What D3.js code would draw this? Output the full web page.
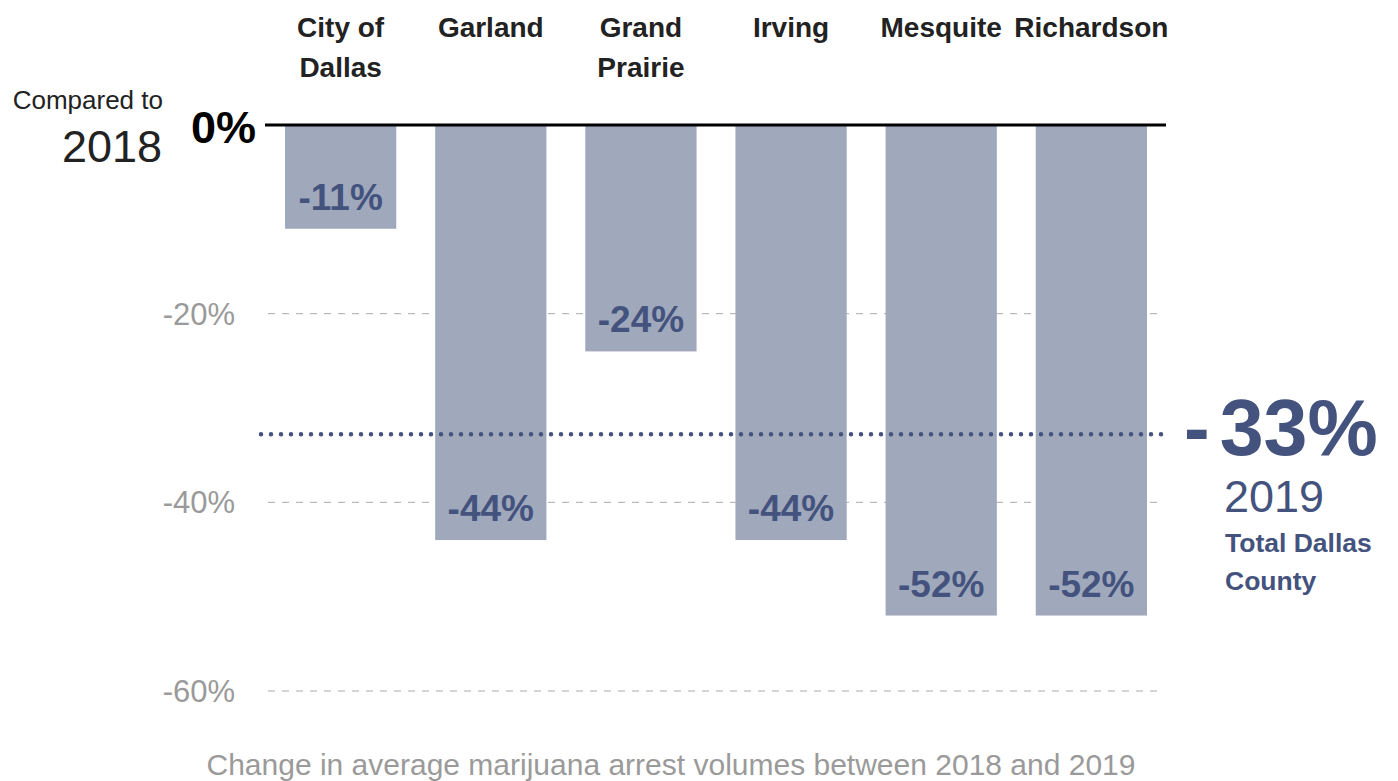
<!DOCTYPE html>
<html><head><meta charset="utf-8">
<script src="https://cdn.jsdelivr.net/npm/d3@7"></script>
<style>body{margin:0;background:#fff}text{font-family:"Liberation Sans",Arial,Helvetica,sans-serif}</style>
</head><body>
<svg id="c" width="1398" height="781"></svg>
<script>
const categories = ["City of|Dallas","Garland","Grand|Prairie","Irving","Mesquite","Richardson"];
const values = [-11,-44,-24,-44,-52,-52];
const valueLabels = ["-11%","-44%","-24%","-44%","-52%","-52%"];
const tickValues = [-20,-40,-60];
const tickLabels = ["-20%","-40%","-60%"];
const countyValue = -33;
const countyLabel = ["-","33%"];

const svg = d3.select("#c");
const y = d3.scaleLinear().domain([0,-60]).range([125,691]);
const x = d3.scaleBand().domain(categories).range([261,1171]).paddingInner(0.259).paddingOuter(0.16);
const barColor = "#a0a8bc", labColor = "#44537e";

// gridlines
svg.selectAll(".grid").data(tickValues).join("line")
  .attr("x1",268).attr("x2",1163).attr("y1",d=>y(d)).attr("y2",d=>y(d))
  .attr("stroke","#aaa").attr("stroke-width",1).attr("stroke-dasharray","7,7");
svg.selectAll(".tick").data(tickValues).join("text")
  .attr("x",235).attr("y",d=>y(d)+11).attr("text-anchor","end")
  .attr("fill","#9a9a9a").attr("font-size",31).text((d,i)=>tickLabels[i]);

// bars
svg.selectAll(".bar").data(values).join("rect")
  .attr("x",(d,i)=>x(categories[i])).attr("width",x.bandwidth())
  .attr("y",y(0)).attr("height",d=>y(d)-y(0)).attr("fill",barColor);

svg.selectAll(".vl").data(values).join("text")
  .attr("x",(d,i)=>x(categories[i])+x.bandwidth()/2).attr("y",d=>y(d)-19)
  .attr("text-anchor","middle").attr("fill",labColor).attr("font-size",37).attr("font-weight","bold")
  .text((d,i)=>valueLabels[i]);

// zero line
svg.append("line").attr("x1",265).attr("x2",1166).attr("y1",y(0)).attr("y2",y(0))
  .attr("stroke","#000").attr("stroke-width",3);

// county dotted line
svg.append("line").attr("x1",261).attr("x2",1170).attr("y1",y(countyValue)-2).attr("y2",y(countyValue)-2)
  .attr("stroke",labColor).attr("stroke-width",4.5).attr("stroke-linecap","round").attr("stroke-dasharray","0,10");

// category labels
categories.forEach((c,i)=>{
  const cx = x(c)+x.bandwidth()/2;
  const t = svg.append("text").attr("x",cx).attr("y",37)
    .attr("text-anchor","middle").attr("fill","#222").attr("font-size",28).attr("font-weight","bold");
  c.split("|").forEach((line,j)=>t.append("tspan").attr("x",cx).attr("dy",j?40:0).text(line));
});

// left annotation
svg.append("text").attr("x",163).attr("y",109).attr("text-anchor","end").attr("fill","#222").attr("font-size",26).text("Compared to");
svg.append("text").attr("x",162).attr("y",162).attr("text-anchor","end").attr("fill","#222").attr("font-size",45).text("2018");
svg.append("text").attr("x",256).attr("y",143).attr("text-anchor","end").attr("fill","#000").attr("font-size",45).attr("font-weight","bold").text("0%");

// right annotation
const ct = svg.append("text").attr("x",1184).attr("y",455).attr("fill",labColor).attr("font-weight","bold");
ct.append("tspan").attr("font-size",77).text(countyLabel[0]);
ct.append("tspan").attr("dx",10).attr("font-size",79).text(countyLabel[1]);
svg.append("text").attr("x",1224).attr("y",512).attr("fill",labColor).attr("font-size",45).text("2019");
svg.append("text").attr("x",1225).attr("y",552).attr("fill",labColor).attr("font-size",26.5).attr("font-weight","bold").text("Total Dallas");
svg.append("text").attr("x",1225).attr("y",590).attr("fill",labColor).attr("font-size",26.5).attr("font-weight","bold").text("County");

// caption
svg.append("text").attr("x",671).attr("y",775).attr("text-anchor","middle").attr("fill","#9a9a9a").attr("font-size",30)
  .text("Change in average marijuana arrest volumes between 2018 and 2019");
</script>
</body></html>
